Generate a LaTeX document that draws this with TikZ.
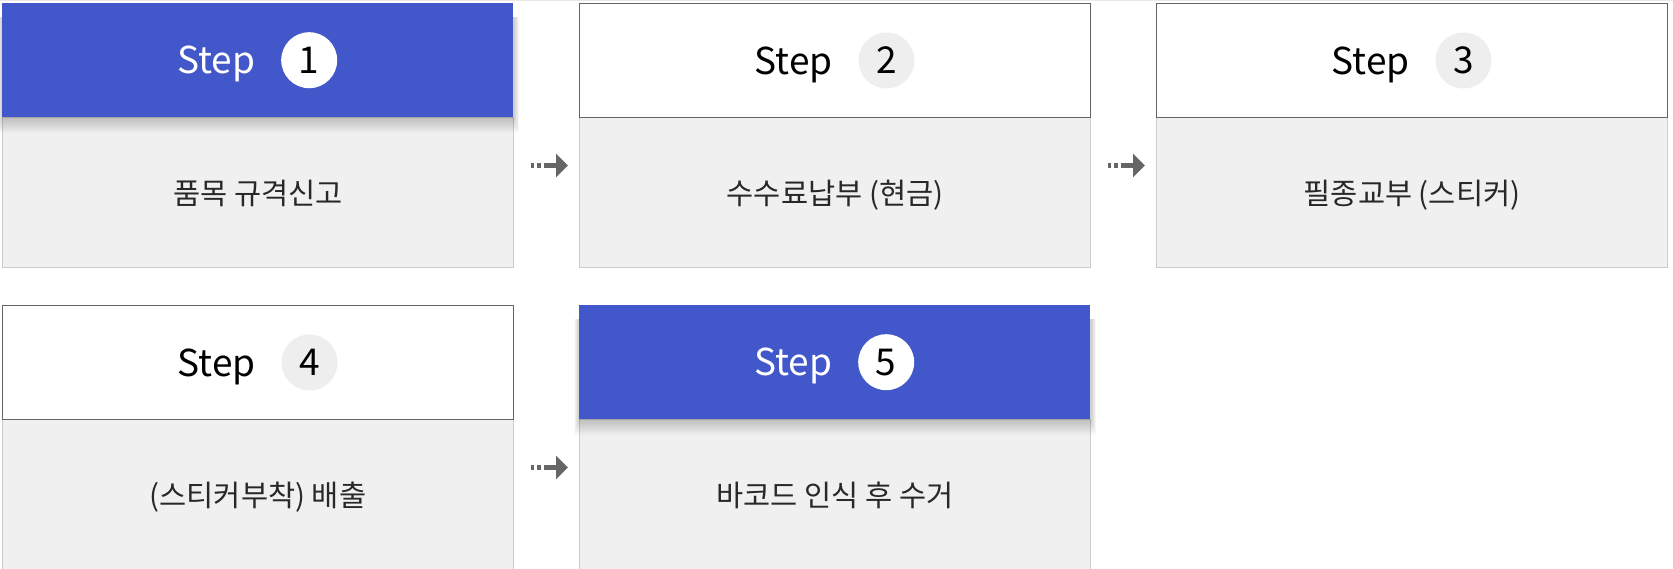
\documentclass[tikz,border=0pt]{standalone}
\usepackage{fontspec}
\setmainfont{Noto Sans CJK KR}
\usetikzlibrary{arrows.meta}
\definecolor{stepblue}{RGB}{66,87,201}
\definecolor{bodygray}{RGB}{240,240,240}
\definecolor{bodyline}{RGB}{204,204,204}
\definecolor{headline}{RGB}{100,100,100}
\definecolor{circgray}{RGB}{238,238,238}
\definecolor{arrowgray}{RGB}{102,102,102}
\definecolor{txt}{RGB}{40,40,40}
\definecolor{topline}{RGB}{232,232,232}
\begin{document}
\begin{tikzpicture}[x=1pt,y=-1pt,
 hdr/.style={rectangle, minimum width=511pt, minimum height=114pt, inner sep=0pt, anchor=north west},
 hdrwhite/.style={hdr, fill=white, draw=headline, line width=1pt},
 hdrblue/.style={hdr, fill=stepblue},
 shadowlayer/.style={fill=black, fill opacity=0.02, draw=none},
 bodybox/.style={rectangle, minimum width=511pt, minimum height=150pt, inner sep=0pt, anchor=north west, fill=bodygray, draw=bodyline, line width=1pt},
 steplbl/.style={font=\fontsize{37}{40}\selectfont, anchor=base, inner sep=0pt},
 numcirc/.style={circle, minimum size=56pt, inner sep=0pt, font=\fontsize{37}{40}\selectfont, text=black},
 numwhite/.style={numcirc, fill=circgray},
 numblue/.style={numcirc, fill=white},
 bodytxt/.style={font=\fontsize{29.5}{32}\selectfont, text=txt, anchor=base, inner sep=0pt},
 flow/.style={draw=arrowgray, line width=4.5pt, dash pattern=on 3pt off 3pt on 4pt off 3pt on 40pt off 0pt, -{Triangle[width=23pt,length=12pt]}}
]
\useasboundingbox (0,0) rectangle (1673,568);
\draw[topline, line width=1pt] (0,0.5) -- (1673,0.5);

% bodies
\node[bodybox] (b1) at (2,117) {};
\node[bodybox] (b2) at (579,117) {};
\node[bodybox] (b3) at (1156,117) {};
\node[bodybox] (b4) at (2,419) {};
\node[bodybox] (b5) at (579,419) {};

% soft shadows under the blue headers
\foreach \i in {1,...,10}{
  \fill[shadowlayer] ([xshift={-\i*0.5pt}, yshift=100pt]b1.north west) rectangle ([xshift={\i*0.5pt}, yshift={-\i*1.6pt}]b1.north east);
  \fill[shadowlayer] ([xshift={-\i*0.5pt}, yshift=100pt]b5.north west) rectangle ([xshift={\i*0.5pt}, yshift={-\i*1.6pt}]b5.north east);
}

% headers
\node[hdrblue] (h1) at (2,3) {};
\node[hdrwhite] (h2) at (579,3) {};
\node[hdrwhite] (h3) at (1156,3) {};
\node[hdrwhite] (h4) at (2,305) {};
\node[hdrblue] (h5) at (579,305) {};

% header labels
\node[steplbl, text=white] (s1) at ([xshift=-41.5pt,yshift=-13.5pt]h1.center) {Step};
\node[numblue] (c1) at ([xshift=51.5pt]h1.center) {1};
\node[steplbl, text=black] (s2) at ([xshift=-41.5pt,yshift=-13.5pt]h2.center) {Step};
\node[numwhite] (c2) at ([xshift=51.5pt]h2.center) {2};
\node[steplbl, text=black] (s3) at ([xshift=-41.5pt,yshift=-13.5pt]h3.center) {Step};
\node[numwhite] (c3) at ([xshift=51.5pt]h3.center) {3};
\node[steplbl, text=black] (s4) at ([xshift=-41.5pt,yshift=-13.5pt]h4.center) {Step};
\node[numwhite] (c4) at ([xshift=51.5pt]h4.center) {4};
\node[steplbl, text=white] (s5) at ([xshift=-41.5pt,yshift=-13.5pt]h5.center) {Step};
\node[numblue] (c5) at ([xshift=51.5pt]h5.center) {5};

% body texts
\node[bodytxt] (t1) at ([yshift=-12pt]b1.center) {품목 규격신고};
\node[bodytxt] (t2) at ([yshift=-12pt]b2.center) {수수료납부 (현금)};
\node[bodytxt] (t3) at ([yshift=-12pt]b3.center) {필종교부 (스티커)};
\node[bodytxt] (t4) at ([yshift=-12pt]b4.center) {(스티커부착) 배출};
\node[bodytxt] (t5) at ([yshift=-12pt]b5.center) {바코드 인식 후 수거};

% arrows
\draw[flow] ([xshift=17pt,yshift=27pt]b1.east) -- ([xshift=-11pt,yshift=27pt]b2.west);
\draw[flow] ([xshift=17pt,yshift=27pt]b2.east) -- ([xshift=-11pt,yshift=27pt]b3.west);
\draw[flow] ([xshift=17pt,yshift=27pt]b4.east) -- ([xshift=-11pt,yshift=27pt]b5.west);
\end{tikzpicture}
\end{document}
